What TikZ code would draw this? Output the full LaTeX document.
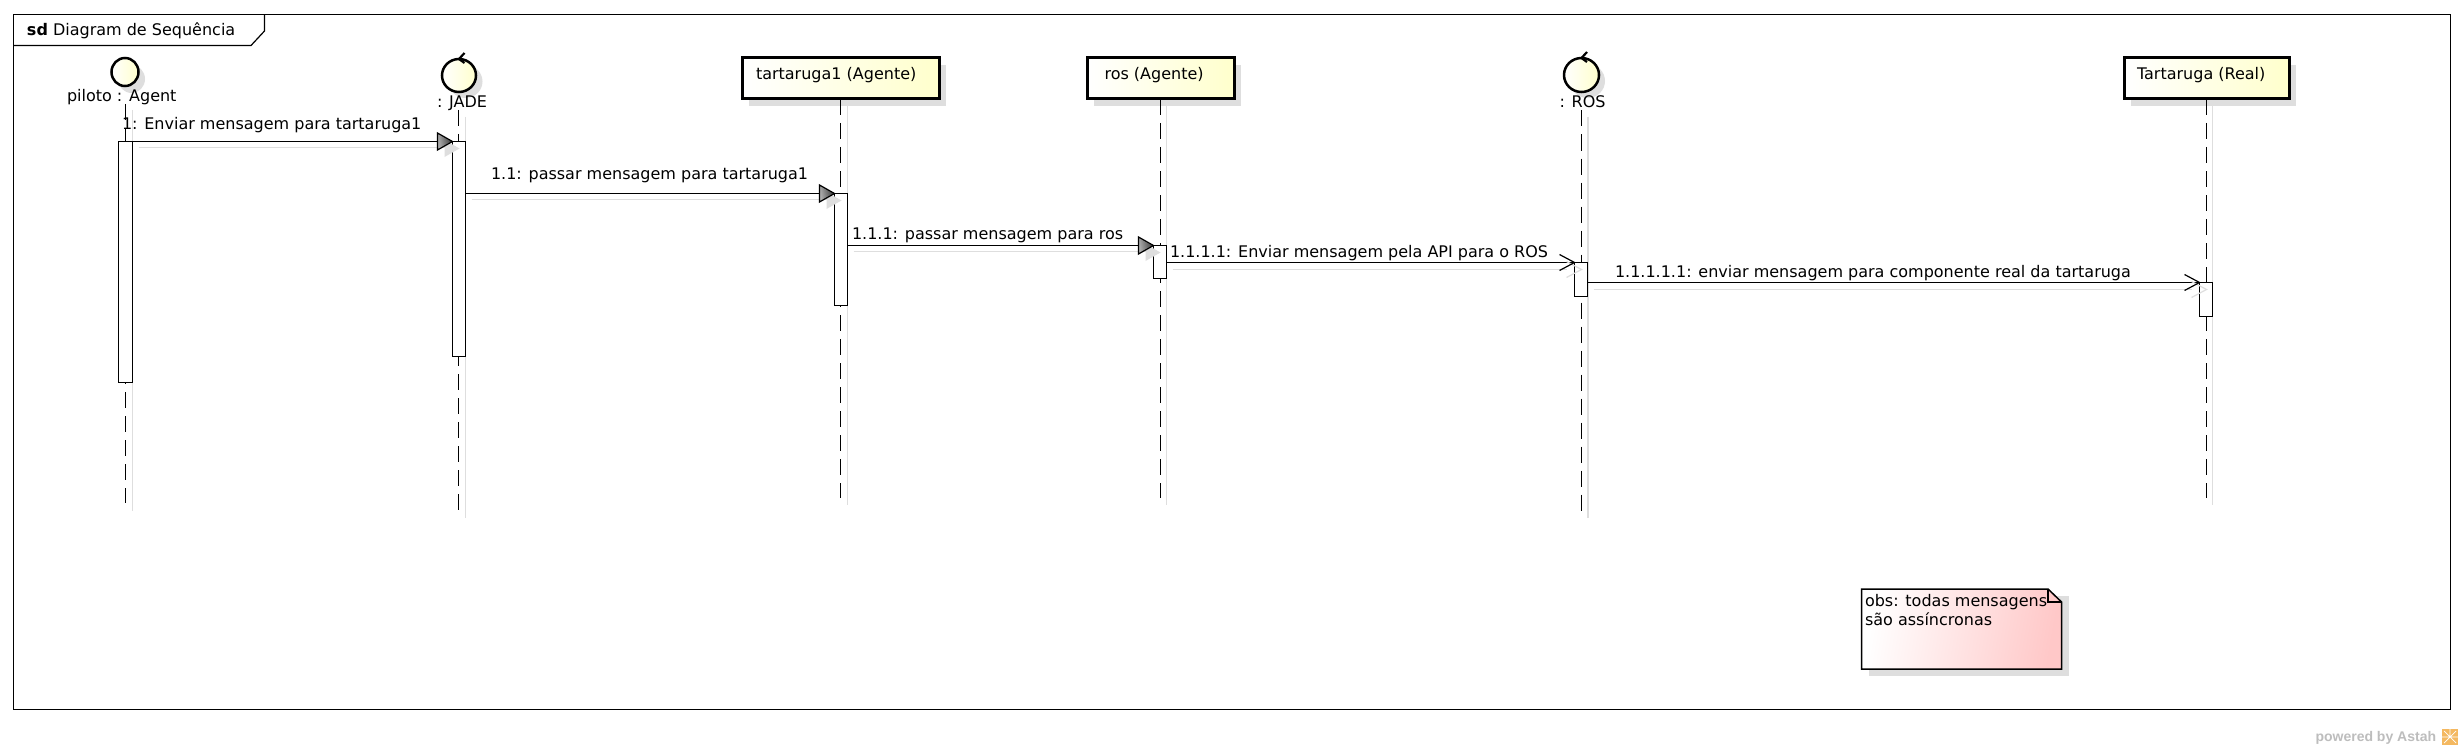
\documentclass[tikz,border=0pt]{standalone}
\usepackage{fontspec}
\setmainfont{DejaVu Sans}
\newfontfamily\wmfont{Liberation Sans}
\usetikzlibrary{shapes.geometric}
\definecolor{shad}{HTML}{DEDEDE}
\definecolor{ylw}{HTML}{FFFFCC}
\definecolor{pinknote}{HTML}{FFC8C8}
\definecolor{wmgray}{HTML}{BDBDBD}
\definecolor{astah}{HTML}{F4B860}
\newcommand{\synchead}[1]{\begin{scope}[shift={(#1)}]
\fill[shad] (-8,-1.5) -- (7,7) -- (-8,15.5) -- cycle;
\path[draw=black,line width=1.2pt,shading=axis,left color=black!30,right color=black!80,shading angle=100] (-15,-8.5) -- (0,0) -- (-15,8.5) -- cycle;
\end{scope}}
\newcommand{\openhead}[1]{\begin{scope}[shift={(#1)}]
\draw[shad,line width=1.2pt] (-8,-1) -- (7,7) -- (-8,15);
\draw[black,line width=1.2pt] (-15,-8) -- (0,0) -- (-15,8);
\end{scope}}
\tikzset{
  x=1pt,y=-1pt,
  every node/.style={font=\fontsize{16}{19}\selectfont,inner sep=0pt,outer sep=0pt},
  life/.style={black,line width=1.5pt,dash pattern=on 16pt off 8pt},
  lifeshadow/.style={shad,line width=1.4pt},
  activ/.style={draw=black,fill=white,line width=1.2pt,anchor=north west,minimum width=13pt},
  msgline/.style={black,line width=1.4pt},
  msgshadow/.style={shad,line width=1.4pt},
  label/.style={anchor=base west,text=black},
  objbox/.style={draw=black,line width=3pt,left color=white,right color=ylw,minimum height=41pt,anchor=north west},
  actor/.style={ellipse,draw=black,line width=2.5pt,left color=white,right color=ylw},
}
\begin{document}
\begin{tikzpicture}
\useasboundingbox (0,0) rectangle (2462,749);
\fill[white] (0,0) rectangle (2462,749);
% frame
\draw[black,line width=1.2pt] (13.5,14.5) rectangle (2450.5,709.5);
\draw[black,line width=1.2pt] (13.5,45.5) -- (251,45.5) -- (264.5,31) -- (264.5,14.5);
\node[label] (frametitle) at (27,36) {\textbf{sd} Diagram de Sequência};
% shadows of heads
\fill[shad] (749,65) rectangle (946,106);
\fill[shad] (1094,65) rectangle (1241,106);
\fill[shad] (2131,65) rectangle (2296,106);
\fill[shad] (131.5,79) ellipse [x radius=13.5,y radius=14];
\fill[shad] (465.5,81.5) ellipse [x radius=17,y radius=16.5];
\fill[shad] (1587.5,81) ellipse [x radius=17.5,y radius=17];
% heads
\node[actor,minimum width=27pt,minimum height=28pt] (piloto) at (125,72) {};
\node[actor,minimum width=34pt,minimum height=33pt] (jade) at (459,75.5) {};
\node[actor,minimum width=35pt,minimum height=34pt] (rosc) at (1581.5,75) {};
\node[objbox,minimum width=197pt] (tart) at (742,58) {};
\node[objbox,minimum width=147pt] (ragent) at (1087,58) {};
\node[objbox,minimum width=165pt] (real) at (2124,58) {};
\draw[black,line width=2.2pt] ([shift={(5.5,-6)}]jade.north) -- (jade.north) -- ([shift={(5.5,4)}]jade.north);
\draw[black,line width=2.2pt] ([shift={(5.5,-6)}]rosc.north) -- (rosc.north) -- ([shift={(5.5,4)}]rosc.north);
\node[label] (pilotolabel) at (67,101.5) {piloto : Agent};
\node[label] (jadelabel) at (437,108) {: JADE};
\node[label] (roslabel) at (1559.5,107.5) {: ROS};
\node[label] (tartlabel) at (756,79.5) {tartaruga1 (Agente)};
\node[label] (raglabel) at (1104.5,79.5) {ros (Agente)};
\node[label] (reallabel) at (2137,79.5) {Tartaruga (Real)};
% lifeline end points
\coordinate (e1) at (125.5,503);
\coordinate (e2) at (458.5,510);
\coordinate (e3) at (840.5,498);
\coordinate (e4) at (1160.5,498);
\coordinate (e5) at (1581.5,511);
\coordinate (e6) at (2206.5,498);
% lifeline shadows
\draw[lifeshadow] (132.5,110) -- (132.5,511);
\draw[lifeshadow] (465.5,117) -- (465.5,518);
\draw[lifeshadow] (847.5,106) -- (847.5,505);
\draw[lifeshadow] (1166.5,106) -- (1166.5,505);
\draw[lifeshadow] (1588,117) -- (1588,518);
\draw[lifeshadow] (2212.5,106) -- (2212.5,505);
% lifelines
\draw[life] (125.5,104) -- (e1);
\draw[life] (458.5,110) -- (e2);
\draw[life] (tart.south) -- (e3);
\draw[life] (ragent.south) -- (e4);
\draw[life] (1581.5,110.5) -- (e5);
\draw[life] (real.south) -- (e6);
% activations
\node[activ,minimum width=14pt,minimum height=241pt] (a1) at (118.5,141.5) {};
\node[activ,minimum height=215pt] (a2) at (452.5,141.5) {};
\node[activ,minimum height=112pt] (a3) at (834.5,193.5) {};
\node[activ,minimum height=33pt] (a4) at (1153.5,245.5) {};
\node[activ,minimum height=34pt] (a5) at (1574.5,262.5) {};
\node[activ,minimum height=34pt] (a6) at (2199.5,282.5) {};
% message shadows
\draw[msgshadow] ([shift={(6,6)}]a1.north east) -- ([shift={(-8,6)}]a2.north west);
\draw[msgshadow] ([shift={(6,6)}]a2.east |- a3.north west) -- ([shift={(-8,6)}]a3.north west);
\draw[msgshadow] ([shift={(6,6)}]a3.east |- a4.north west) -- ([shift={(-8,6)}]a4.north west);
\draw[msgshadow] ([shift={(6,7)}]a4.east |- a5.north west) -- ([shift={(-8,7)}]a5.north west);
\draw[msgshadow] ([shift={(6,7)}]a5.east |- a6.north west) -- ([shift={(-8,7)}]a6.north west);
% messages
\draw[msgline] (a1.north east) -- (a2.north west);
\draw[msgline] (a2.east |- a3.north west) -- (a3.north west);
\draw[msgline] (a3.east |- a4.north west) -- (a4.north west);
\draw[msgline] (a4.east |- a5.north west) -- (a5.north west);
\draw[msgline] (a5.east |- a6.north west) -- (a6.north west);
\synchead{a2.north west}
\synchead{a3.north west}
\synchead{a4.north west}
\openhead{a5.north west}
\openhead{a6.north west}
\node[label] (m1) at (122,129) {1: Enviar mensagem para tartaruga1};
\node[label] (m2) at (491,179) {1.1: passar mensagem para tartaruga1};
\node[label] (m3) at (852,239.5) {1.1.1: passar mensagem para ros};
\node[label] (m4) at (1170,257) {1.1.1.1: Enviar mensagem pela API para o ROS};
\node[label] (m5) at (1615,277) {1.1.1.1.1: enviar mensagem para componente real da tartaruga};
% note
\fill[shad] (1868.5,596) rectangle (2068.5,676);
\path[draw=black,line width=1.5pt,shading=axis,left color=white,right color=pinknote,shading angle=80] (1861.5,589) -- (2048,589) -- (2061.5,602) -- (2061.5,669) -- (1861.5,669) -- cycle;
\draw[black,line width=1.2pt] (2048,589) -- (2048,602) -- (2061.5,602);
\node[label,align=left,anchor=north west] (note) at (1865,594) {obs: todas mensagens\\são assíncronas};
% watermark
\node[anchor=base west,font=\wmfont\bfseries\fontsize{14}{16}\selectfont,text=wmgray] (wm) at (2315.5,741) {powered by Astah};
\fill[astah] (2442,729) rectangle (2458,745);
\draw[white,line width=0.7pt] (2450,729) -- (2450,737) (2442,737) -- (2458,737) (2444,731) -- (2456,743) (2456,731) -- (2444,743);
\end{tikzpicture}
\end{document}
